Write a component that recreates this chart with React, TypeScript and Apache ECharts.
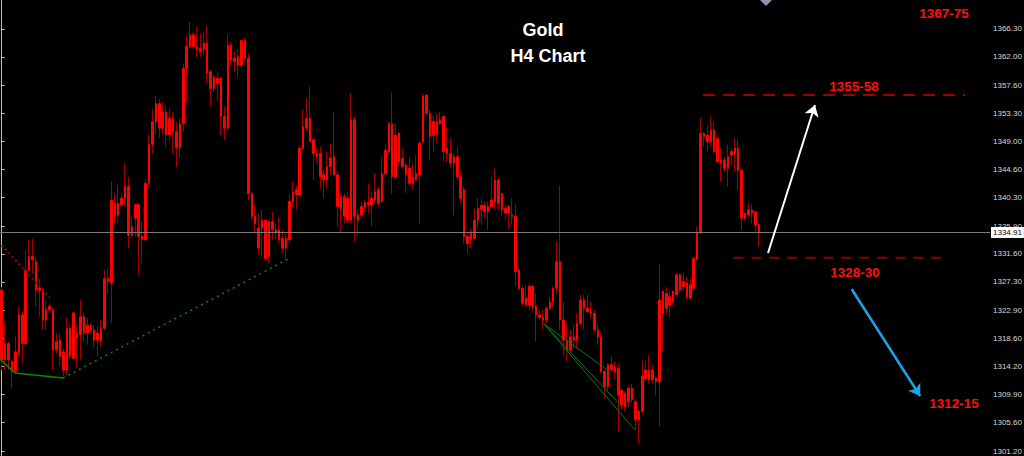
import React, { useEffect, useRef } from "react";
import * as echarts from "echarts";

// H4 candles: [open, close, low, high]
const candles: number[][] = [
  [1326.0,1315.3,1313.7,1326.5],[1315.3,1317.8,1313.7,1320.9],[1317.8,1315.3,1313.7,1318.1],[1315.0,1313.5,1310.9,1315.3],
  [1313.5,1316.5,1313.2,1318.9],[1316.3,1322.2,1315.8,1323.5],[1322.2,1317.8,1314.7,1322.7],[1317.8,1329.1,1317.5,1332.2],
  [1329.1,1331.2,1329.0,1333.8],[1331.2,1330.7,1328.6,1334.0],[1330.4,1326.0,1323.5,1331.0],[1326.3,1326.0,1321.9,1327.8],
  [1326.0,1321.4,1319.9,1326.3],[1321.4,1323.0,1319.9,1324.5],[1323.0,1323.5,1322.5,1324.0],[1323.0,1316.8,1313.7,1323.3],
  [1316.8,1318.1,1316.3,1319.4],[1318.3,1315.8,1314.2,1319.4],[1316.5,1313.7,1312.7,1317.0],[1313.7,1320.1,1312.9,1321.9],
  [1320.1,1315.8,1315.3,1320.9],[1315.5,1322.5,1315.3,1322.7],[1319.4,1318.6,1314.0,1320.6],[1319.1,1321.9,1315.3,1324.5],
  [1321.9,1319.4,1318.1,1322.4],[1319.4,1320.6,1317.6,1321.7],[1320.6,1319.9,1319.4,1320.9],[1319.9,1318.3,1317.1,1320.6],
  [1318.3,1319.4,1315.8,1320.4],[1318.1,1320.1,1317.3,1321.4],[1320.1,1327.8,1320.1,1329.1],[1327.8,1327.3,1325.5,1329.4],
  [1327.1,1339.9,1320.9,1342.8],[1339.4,1337.4,1336.3,1341.0],[1337.6,1339.4,1336.3,1342.2],[1339.2,1340.2,1338.9,1341.0],
  [1340.2,1342.0,1338.9,1345.6],[1342.0,1334.5,1332.5,1343.5],[1334.5,1335.8,1334.0,1337.4],[1337.1,1339.2,1334.3,1339.4],
  [1339.2,1334.3,1328.4,1339.4],[1334.3,1333.8,1330.2,1336.6],[1333.8,1342.5,1333.5,1343.0],[1342.5,1348.5,1342.0,1350.0],
  [1348.5,1352.0,1347.0,1354.0],[1352.0,1354.8,1350.0,1356.0],[1354.8,1351.0,1349.5,1355.5],[1351.0,1353.5,1350.0,1355.0],
  [1353.5,1350.0,1348.0,1354.5],[1350.0,1352.5,1349.0,1354.0],[1352.5,1350.5,1347.0,1353.5],[1350.5,1348.0,1345.0,1352.0],
  [1348.0,1351.7,1346.5,1352.5],[1351.7,1360.2,1350.5,1361.0],[1360.2,1363.6,1355.0,1365.2],[1363.6,1365.4,1363.2,1367.4],
  [1365.4,1363.6,1363.2,1365.9],[1363.6,1363.1,1362.0,1366.7],[1363.3,1362.8,1362.0,1365.6],[1363.1,1364.1,1362.3,1365.9],
  [1364.1,1359.5,1357.9,1366.9],[1359.7,1357.1,1354.3,1360.0],[1357.1,1358.9,1356.6,1359.2],[1358.7,1357.9,1355.1,1359.5],
  [1358.7,1352.8,1349.9,1359.0],[1352.8,1351.0,1349.2,1354.3],[1351.0,1363.8,1350.7,1365.4],[1363.8,1361.5,1360.7,1364.3],
  [1361.8,1361.3,1359.7,1362.8],[1362.0,1360.7,1358.9,1363.1],[1360.7,1364.5,1360.2,1364.6],[1364.5,1361.8,1361.5,1364.9],
  [1361.8,1340.9,1339.9,1362.5],[1340.9,1337.4,1336.8,1341.2],[1337.4,1336.3,1334.8,1339.2],[1335.6,1332.5,1331.5,1337.9],
  [1335.6,1336.8,1331.2,1338.4],[1336.8,1330.9,1330.4,1336.8],[1331.2,1336.6,1330.2,1336.8],[1336.6,1335.3,1333.8,1338.1],
  [1335.3,1335.0,1333.8,1336.3],[1335.3,1333.8,1333.2,1337.3],[1334.0,1332.5,1331.7,1335.3],[1332.5,1334.0,1330.7,1334.8],
  [1333.8,1339.7,1333.2,1340.9],[1339.7,1341.2,1338.9,1342.8],[1341.5,1340.7,1338.4,1342.2],[1340.7,1347.9,1340.4,1348.4],
  [1347.9,1351.2,1347.6,1353.8],[1351.0,1352.5,1350.5,1355.6],[1352.5,1348.9,1348.9,1357.4],[1349.2,1347.1,1343.0,1349.4],
  [1347.1,1346.6,1345.6,1347.9],[1347.1,1343.5,1341.7,1348.2],[1343.8,1343.0,1340.2,1344.6],[1343.0,1345.1,1341.7,1347.4],
  [1345.1,1346.4,1343.8,1348.6],[1346.6,1343.8,1343.5,1353.5],[1343.8,1338.9,1335.8,1344.3],[1338.6,1340.4,1335.0,1340.9],
  [1340.4,1337.4,1336.3,1340.9],[1336.8,1340.2,1336.3,1341.2],[1336.8,1352.3,1336.3,1356.4],[1352.3,1337.4,1333.5,1352.8],
  [1337.6,1336.8,1334.3,1338.4],[1337.6,1338.9,1337.4,1339.7],[1338.8,1339.5,1338.1,1339.9],[1339.5,1339.2,1337.9,1342.5],
  [1339.2,1340.2,1335.8,1341.2],[1339.9,1341.2,1339.4,1344.0],[1341.5,1339.4,1338.9,1342.0],[1339.7,1344.0,1339.4,1346.6],
  [1344.0,1347.6,1343.5,1348.4],[1347.4,1351.7,1347.1,1352.0],[1351.7,1343.5,1340.9,1356.5],[1343.5,1349.9,1343.0,1351.7],
  [1350.2,1345.8,1345.3,1350.4],[1346.3,1345.1,1344.8,1347.9],[1345.3,1343.8,1341.0,1345.6],[1342.5,1344.8,1342.0,1346.6],
  [1343.5,1342.5,1341.5,1345.6],[1343.0,1344.0,1342.8,1346.9],[1343.8,1348.7,1336.3,1349.0],[1348.9,1355.9,1348.7,1356.4],
  [1356.1,1353.3,1353.0,1356.1],[1353.3,1349.7,1346.1,1353.8],[1349.9,1352.0,1347.4,1353.0],[1352.0,1350.2,1348.7,1353.3],
  [1351.7,1352.3,1351.5,1353.5],[1352.8,1347.4,1345.8,1353.0],[1347.9,1347.1,1345.8,1351.2],[1347.1,1345.6,1344.8,1349.4],
  [1345.6,1346.6,1337.6,1347.1],[1346.6,1343.5,1343.0,1348.1],[1343.5,1340.2,1339.4,1344.3],[1341.5,1334.3,1333.2,1342.0],
  [1334.3,1333.2,1331.7,1335.0],[1333.8,1335.0,1332.5,1335.5],[1334.0,1336.8,1333.8,1338.6],[1336.8,1338.6,1335.5,1340.2],
  [1338.4,1339.1,1336.1,1340.2],[1339.1,1338.1,1337.1,1339.7],[1338.1,1338.9,1335.3,1339.7],[1338.9,1339.9,1338.6,1343.5],
  [1339.7,1343.0,1338.4,1344.8],[1343.0,1339.4,1338.4,1343.3],[1340.9,1338.4,1337.4,1340.9],[1338.6,1337.9,1336.8,1339.2],
  [1337.9,1338.9,1335.5,1339.2],[1337.6,1337.4,1336.1,1340.2],[1337.4,1328.9,1326.6,1339.2],[1329.1,1326.3,1326.0,1329.4],
  [1326.3,1324.0,1323.5,1326.6],[1323.7,1324.8,1323.5,1326.8],[1323.7,1326.6,1322.9,1327.1],[1326.6,1323.5,1322.7,1326.8],
  [1323.5,1322.2,1318.1,1325.5],[1322.2,1321.8,1321.4,1322.9],[1321.8,1321.4,1320.0,1323.0],[1321.4,1323.2,1320.9,1323.5],
  [1323.2,1324.2,1322.9,1324.9],[1324.2,1326.3,1323.5,1326.6],[1326.3,1330.4,1325.5,1333.5],[1330.4,1321.4,1319.9,1342.2],
  [1321.4,1318.3,1315.8,1324.2],[1318.3,1316.8,1315.0,1320.9],[1316.8,1318.8,1316.3,1319.9],[1318.8,1318.3,1317.0,1320.6],
  [1318.3,1320.9,1317.0,1322.4],[1320.9,1324.5,1320.4,1325.3],[1324.5,1323.2,1319.9,1325.3],[1323.2,1322.7,1322.4,1325.3],
  [1322.7,1322.4,1321.7,1324.2],[1322.4,1319.9,1319.4,1322.9],[1319.9,1318.8,1317.6,1320.9],[1318.8,1313.5,1313.2,1319.4],
  [1313.5,1311.1,1309.3,1313.7],[1311.1,1314.5,1310.6,1314.8],[1314.5,1313.7,1313.4,1315.8],[1314.2,1313.4,1312.2,1315.0],
  [1313.9,1309.8,1304.2,1314.7],[1310.6,1308.3,1307.5,1310.9],[1308.0,1310.1,1307.3,1310.4],[1310.9,1308.8,1308.0,1311.4],
  [1309.1,1310.9,1308.6,1311.6],[1308.8,1306.0,1304.5,1309.3],[1306.0,1307.3,1302.4,1307.5],[1307.3,1312.7,1307.0,1315.2],
  [1312.4,1313.7,1312.1,1315.2],[1313.7,1312.2,1311.6,1316.0],[1312.2,1313.7,1311.6,1314.5],[1312.4,1311.9,1309.8,1312.7],
  [1311.9,1324.5,1305.0,1330.1],[1322.4,1325.8,1316.5,1326.0],[1325.5,1323.2,1322.4,1326.5],[1323.7,1325.0,1321.9,1325.8],
  [1324.2,1325.8,1323.7,1326.0],[1325.3,1328.4,1325.0,1328.6],[1328.4,1326.0,1325.5,1328.6],[1326.6,1327.3,1325.8,1328.6],
  [1327.1,1325.0,1324.5,1328.1],[1324.8,1326.8,1324.5,1327.8],[1326.3,1330.9,1326.3,1331.2],[1330.7,1334.8,1330.7,1335.8],
  [1334.8,1350.2,1334.8,1352.5],[1350.2,1349.7,1348.1,1350.4],[1349.9,1348.9,1347.4,1351.5],[1348.9,1350.7,1348.1,1352.8],
  [1350.7,1347.4,1347.1,1352.0],[1349.4,1345.8,1345.6,1349.7],[1346.1,1345.6,1342.7,1347.9],[1346.1,1344.8,1344.3,1346.6],
  [1344.8,1346.6,1342.0,1348.4],[1346.9,1347.4,1345.3,1347.9],[1347.1,1347.9,1344.3,1349.4],[1347.9,1344.5,1341.5,1349.2],
  [1344.5,1337.1,1335.3,1344.8],[1337.9,1337.1,1336.8,1337.9],[1337.6,1338.4,1337.3,1339.4],[1338.4,1337.9,1336.3,1339.2],
  [1338.1,1336.1,1335.0,1338.1],[1336.1,1334.8,1332.7,1336.3],
];

const slotCount = 289;
const priceTicks = [1301.2,1305.6,1309.9,1314.2,1318.6,1322.9,1327.3,1331.6,1335.9,1340.3,1344.6,1349.0,1353.3,1357.6,1362.0,1366.3];
const priceMin = 1300.43;
const priceMax = 1370.77;
const lastPrice = 1334.91;

// drawing objects, in [bar index, price]
const greenBase = [[-0.5,1315.39],[3.9,1313.23],[17.9,1312.46]];
const greenTrend = [[17.9,1312.46],[83.6,1330.8]];
const redTrend = [[0,1332.97],[14.1,1324.8]];
const fanOrigin = [158.1,1320.9];
const fanEnds = [[184.9,1304.4],[181.5,1307.8],[177.6,1313.4]];
const targetHigh = [[204.7,1356.1],[281.2,1356.1]];
const supportLine = [[213.6,1331.0],[274.4,1331.0]];
const upArrow = [[223.7,1331.74],[237.4,1354.57]];
const downArrow = [[248.1,1326.19],[268.1,1309.68]];

const titleLines = [
  { text: "Gold", x: 543, y: 30 },
  { text: "H4 Chart", x: 548, y: 56 },
];
const levelLabels = [
  { text: "1367-75", x: 944, y: 13 },
  { text: "1355-58", x: 854, y: 86 },
  { text: "1328-30", x: 855, y: 272 },
  { text: "1312-15", x: 954, y: 403 },
];

function lineSeries(data: number[][], color: string, width: number, type: any, extra: any = {}) {
  return {
    type: "line",
    xAxisIndex: 1,
    yAxisIndex: 0,
    data,
    symbol: "none",
    silent: true,
    lineStyle: { color, width, type },
    z: 5,
    ...extra,
  };
}

export default function App() {
  const ref = useRef<HTMLDivElement>(null);
  useEffect(() => {
    document.body.style.margin = "0";
    const chart = echarts.init(ref.current!, undefined, { renderer: "svg" });
    const red = "#ff0000";
    const wick = "#a00000";
    const option: any = {
      animation: false,
      backgroundColor: "#000000",
      grid: { left: 0, right: 34, top: 0, bottom: 0, containLabel: false, outerBoundsMode: "none" },
      xAxis: [
        {
          type: "category",
          data: Array.from({ length: slotCount }, (_, i) => String(i)),
          boundaryGap: true,
          show: false,
        },
        { type: "value", min: -0.5, max: slotCount - 0.5, show: false },
      ],
      yAxis: {
        type: "value",
        position: "right",
        min: priceMin,
        max: priceMax,
        splitLine: { show: false },
        axisLine: { show: true, lineStyle: { color: "#c0c0c0", width: 1 } },
        axisTick: { show: true, customValues: priceTicks, length: 3, lineStyle: { color: "#c0c0c0" } },
        axisLabel: {
          customValues: priceTicks,
          formatter: (v: number) => v.toFixed(2),
          color: "#d8d8d8",
          fontSize: 8,
          fontFamily: "Liberation Sans",
          margin: 3,
        },
      },
      graphic: [
        ...titleLines.map((t) => ({
          type: "text",
          x: t.x,
          y: t.y,
          style: { text: t.text, fill: "#ffffff", font: 'bold 18px "Liberation Sans"', align: "center", verticalAlign: "middle" },
        })),
        ...levelLabels.map((t) => ({
          type: "text",
          x: t.x,
          y: t.y,
          style: { text: t.text, fill: "#ff1010", font: 'bold 13.5px "Liberation Sans"', align: "center", verticalAlign: "middle" },
        })),
        { type: "polygon", shape: { points: [[760, 0], [772, 0], [766, 6]] }, style: { fill: "#8898a8" } },
      ],
      series: [
        {
          type: "candlestick",
          xAxisIndex: 0,
          yAxisIndex: 0,
          data: candles,
          barWidth: 1,
          silent: true,
          itemStyle: { color: wick, color0: wick, borderColor: wick, borderColor0: wick, borderWidth: 1 },
          markLine: {
            silent: true,
            symbol: "none",
            data: [{ yAxis: lastPrice }],
            lineStyle: { color: "#7a7a7a", width: 1, type: "solid" },
            label: {
              show: true,
              position: "end",
              distance: 1,
              formatter: lastPrice.toFixed(2),
              color: "#000000",
              backgroundColor: "#ffffff",
              fontSize: 8,
              fontFamily: "Liberation Sans",
              padding: [2, 2, 1, 2],
            },
          },
        },
        {
          type: "candlestick",
          xAxisIndex: 0,
          yAxisIndex: 0,
          data: candles.map(([o, c]) => [o, c, Math.min(o, c), Math.max(o, c)]),
          barWidth: 2,
          silent: true,
          itemStyle: { color: red, color0: red, borderColor: red, borderColor0: red, borderWidth: 1 },
        },
        lineSeries(greenBase, "#0a8a0a", 1.5, "solid"),
        lineSeries(greenTrend, "#0a8a0a", 1.5, [2, 4]),
        lineSeries(redTrend, "#900000", 2.5, [2, 3]),
        ...fanEnds.map((e) => lineSeries([fanOrigin, e], "#0a7a0a", 1, "solid")),
        lineSeries(targetHigh, "#d40000", 1.5, [12, 8], {
          markLine: {
            silent: true,
            symbol: ["none", "arrow"],
            symbolSize: 11,
            label: { show: false },
            data: [
              [
                { coord: upArrow[0], lineStyle: { color: "#ffffff", width: 2, type: "solid" }, itemStyle: { color: "#ffffff" } },
                { coord: upArrow[1], itemStyle: { color: "#ffffff" } },
              ],
              [
                { coord: downArrow[0], lineStyle: { color: "#1ca3e6", width: 2.5, type: "solid" }, itemStyle: { color: "#1ca3e6" } },
                { coord: downArrow[1], itemStyle: { color: "#1ca3e6" } },
              ],
            ],
          },
        }),
        lineSeries(supportLine, "#8b0000", 2, [10, 8]),
      ],
    };
    chart.setOption(option);
    return () => chart.dispose();
  }, []);
  return (
    <div
      ref={ref}
      style={{ position: "fixed", left: 0, top: 0, width: 1024, height: 456, background: "#000" }}
    />
  );
}
